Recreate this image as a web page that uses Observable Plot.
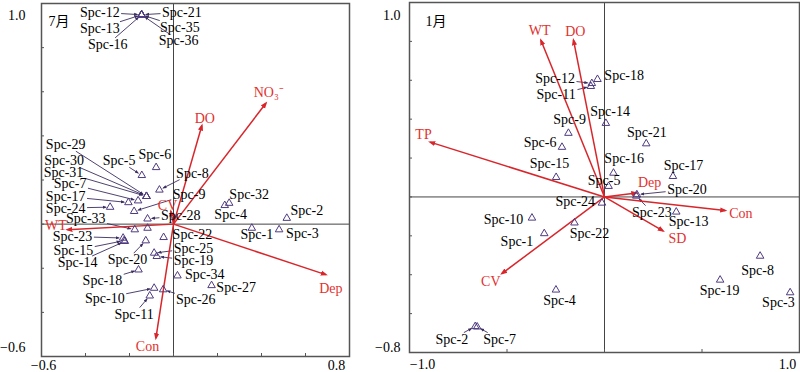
<!DOCTYPE html>
<html><head><meta charset="utf-8">
<script src="https://cdn.jsdelivr.net/npm/d3@7"></script>
<script src="https://cdn.jsdelivr.net/npm/@observablehq/plot@0.6"></script>
<style>
html,body{margin:0;padding:0;background:#fff;}
#wrap{position:relative;width:800px;height:372px;overflow:hidden;background:#fff;}
#wrap > svg{position:absolute;top:0;}
</style></head><body><div id="wrap"></div>
<script>
// ---------- July (7月) ----------
const julSpecies = Array.from({length: 36}, (_, i) => `Spc-${i + 1}`);
const julX = [0.356,0.515,0.480,0.233,-0.144,-0.079,-0.161,-0.064,-0.179,-0.088,-0.108,-0.145,-0.145,-0.221,-0.225,-0.145,-0.205,-0.159,-0.076,-0.126,-0.145,-0.045,-0.229,-0.288,-0.088,-0.047,0.173,-0.118,-0.123,-0.123,-0.123,0.253,-0.176,0.018,-0.145,-0.145];
const julY = [-0.018,0.027,-0.025,0.085,0.221,0.257,0.106,0.155,0.058,-0.290,-0.325,0.949,0.949,-0.078,-0.075,0.949,0.098,-0.207,-0.146,-0.075,0.949,-0.060,-0.063,0.077,-0.131,-0.297,-0.278,0.024,0.126,0.126,0.126,0.095,-0.025,-0.234,0.949,0.949];
const julLabelX = [0.379,0.606,0.586,0.260,-0.247,-0.085,-0.470,0.086,0.071,-0.312,-0.179,-0.335,-0.335,-0.436,-0.455,-0.299,-0.490,-0.323,0.091,-0.209,0.038,0.086,-0.459,-0.490,0.091,0.101,0.285,0.033,-0.490,-0.497,-0.500,0.344,-0.399,0.142,0.029,0.023];
const julLabelY = [-0.045,0.061,-0.041,0.043,0.287,0.315,0.183,0.231,0.136,-0.335,-0.408,0.960,0.888,-0.174,-0.121,0.815,0.126,-0.257,-0.166,-0.161,0.960,-0.045,-0.056,0.073,-0.109,-0.343,-0.287,0.038,0.360,0.287,0.236,0.136,0.024,-0.227,0.893,0.833];
const julLeaders = ["Spc-5","Spc-7","Spc-8","Spc-9","Spc-10","Spc-11","Spc-12","Spc-13","Spc-14","Spc-15","Spc-16","Spc-17","Spc-18","Spc-19","Spc-20","Spc-21","Spc-23","Spc-24","Spc-25","Spc-26","Spc-28","Spc-29","Spc-30","Spc-31","Spc-33","Spc-35","Spc-36"];
const julExtraX = [-0.118];
const julExtraY = [-0.018];
const julEnv = ["NO₃⁻","DO","CV","WT","Dep","Con"];
const julEnvX = [0.420,0.129,-0.012,-0.482,0.692,-0.080];
const julEnvY = [0.548,0.447,0.058,-0.025,-0.229,-0.517];
const julEnvLabelX = [0.433,0.142,-0.027,-0.535,0.715,-0.118];
const julEnvLabelY = [0.598,0.480,0.085,-0.005,-0.290,-0.554];
const julXTicks = [-0.6,-0.4,-0.2,0,0.2,0.4,0.6,0.8];
const julYTicks = [-0.6,-0.4,-0.2,0,0.2,0.4,0.6,0.8,1.0];
const julXLabels = [-0.6, 0.8];
const julYLabels = [-0.6, 1.0];

// ---------- January (1月) ----------
const janSpecies = Array.from({length: 24}, (_, i) => `Spc-${i + 1}`);
const janX = [-0.309,-0.663,0.952,-0.249,0.021,-0.218,-0.653,0.798,-0.185,-0.372,-0.070,-0.065,0.368,0.007,-0.248,0.046,0.351,-0.036,0.593,0.166,0.214,-0.154,0.163,-0.013];
const janY = [-0.188,-0.666,-0.492,-0.478,0.055,0.256,-0.668,-0.304,0.328,-0.108,0.569,0.584,-0.077,0.379,0.101,0.123,0.106,0.605,-0.427,0.012,0.274,-0.133,0.005,-0.031];
const janLabelX = [-0.449,-0.783,0.892,-0.231,-0.002,-0.330,-0.538,0.785,-0.179,-0.518,-0.248,-0.253,0.431,0.029,-0.282,0.101,0.405,0.101,0.590,0.423,0.217,-0.077,0.243,-0.150];
const janLabelY = [-0.231,-0.731,-0.543,-0.534,0.084,0.280,-0.731,-0.377,0.397,-0.116,0.525,0.607,-0.128,0.439,0.171,0.197,0.162,0.627,-0.480,0.038,0.331,-0.190,-0.078,-0.026];
const janLeaders = ["Spc-2","Spc-7","Spc-11","Spc-12","Spc-20","Spc-23"];
const janEnv = ["WT","DO","TP","Dep","Con","SD","CV"];
const janEnvX = [-0.326,-0.159,-0.894,0.163,0.619,0.300,-0.526];
const janEnvY = [0.806,0.806,0.282,0.020,-0.070,-0.174,-0.394];
const janEnvLabelX = [-0.333,-0.150,-0.928,0.231,0.699,0.374,-0.583];
const janEnvLabelY = [0.858,0.852,0.320,0.072,-0.085,-0.213,-0.435];
const janXTicks = [-1,-0.5,0,0.5,1];
const janYTicks = [-0.8,-0.6,-0.4,-0.2,0,0.2,0.4,0.6,0.8,1.0];
const janXLabels = [-1.0, 1.0];
const janYLabels = [-0.8, 1.0];

const RED = "#d8262b";
const RED_TEXT = "#e2322f";
const PURPLE = "#4f3b80";
const LEADER = "#3b2d60";
const FONT = "'Liberation Serif','Times New Roman','Noto Sans CJK SC',serif";
const fmt = d3.format(".1f");

function panel(c) {
  const pw = c.width - c.mL - c.mR, ph = c.height - c.mT - c.mB;
  const kx = pw / (c.domX[1] - c.domX[0]), ky = ph / (c.domY[1] - c.domY[0]);
  const pts = c.species.map((s, i) => ({s, x: c.sx[i], y: c.sy[i], lx: c.lx[i], ly: c.ly[i]}));
  const extra = (c.extraX || []).map((x, i) => ({x, y: c.extraY[i]}));
  const leaders = pts.filter(d => c.leaders.includes(d.s)).map(d => {
    const digits = d.s.length - 4;
    const hw = (25.7 + 7 * digits) / 2 + 1.5, hh = 6.5;
    const dxp = (d.x - d.lx) * kx, dyp = (d.y - d.ly) * ky;
    const t = Math.min(hw / Math.max(Math.abs(dxp), 1e-9), hh / Math.max(Math.abs(dyp), 1e-9));
    const dist = Math.hypot(dxp, dyp);
    const te = Math.max(t, (dist - 4.5) / dist);
    return {x1: d.lx + t * (d.x - d.lx), y1: d.ly + t * (d.y - d.ly),
            x2: d.lx + te * (d.x - d.lx), y2: d.ly + te * (d.y - d.ly)};
  });
  const env = c.env.map((n, i) => ({n, x: c.ex[i], y: c.ey[i], lx: c.elx[i], ly: c.ely[i]}));
  const svg = Plot.plot({
    width: c.width, height: c.height,
    marginLeft: c.mL, marginRight: c.mR, marginTop: c.mT, marginBottom: c.mB,
    x: {domain: c.domX, label: null},
    y: {domain: c.domY, label: null},
    style: {fontFamily: FONT, fontSize: "14px", background: "transparent", color: "#000"},
    marks: [
      Plot.ruleX([0], {stroke: "#444", strokeWidth: 1}),
      Plot.ruleY([0], {stroke: "#444", strokeWidth: 1}),
      Plot.ruleX(c.xTicks, {x: d => d, insetTop: ph - 3, stroke: "#555"}),
      Plot.ruleY(c.yTicks, {y: d => d, insetRight: pw - 3, stroke: "#555"}),
      Plot.frame({stroke: "#555", strokeWidth: 1.5}),
      Plot.axisY([c.yLabels[1]], {tickSize: 0, tickPadding: c.yPad, dy: c.yDyTop, tickFormat: fmt, fontSize: 14, fill: "#000"}),
      Plot.axisY([c.yLabels[0]], {tickSize: 0, tickPadding: c.yPad, dy: c.yDyBot, tickFormat: fmt, fontSize: 14, fill: "#000"}),
      Plot.axisX([c.xLabels[0]], {tickSize: 0, tickPadding: c.xPad, dx: c.xDxL, tickFormat: fmt, fontSize: 14, fill: "#000"}),
      Plot.axisX([c.xLabels[1]], {tickSize: 0, tickPadding: c.xPad, dx: c.xDxR, tickFormat: fmt, fontSize: 14, fill: "#000"}),
      Plot.link(leaders, {x1: "x1", y1: "y1", x2: "x2", y2: "y2", stroke: LEADER, strokeWidth: 0.9, markerEnd: "arrow"}),
      Plot.link(env, {x1: () => 0, y1: () => 0, x2: "x", y2: "y", stroke: RED, strokeWidth: 1.5, markerEnd: "arrow"}),
      Plot.dot(pts, {x: "x", y: "y", symbol: "triangle", r: 2.8, stroke: PURPLE, strokeWidth: 1, fill: "none"}),
      Plot.dot(extra, {x: "x", y: "y", symbol: "triangle", r: 2.8, stroke: PURPLE, strokeWidth: 1, fill: "none"}),
      Plot.text(pts, {x: "lx", y: "ly", text: "s", fontSize: 14, fill: "#000"}),
      Plot.text(env, {x: "lx", y: "ly", text: "n", fontSize: 14, fill: RED_TEXT}),
      Plot.text([c.title], {frameAnchor: "top-left", text: d => d, textAnchor: "start", lineAnchor: "middle", dx: c.tDx, dy: c.tDy, fontSize: 14, fill: "#000"})
    ]
  });
  d3.select(svg).selectAll("marker").each(function () {
    const m = d3.select(this);
    const col = m.attr("stroke");
    m.attr("stroke", "none").attr("fill", col);
    m.selectAll("path").attr("d", "M-5,-2.6L2.2,0L-5,2.6Z").attr("stroke", "none").attr("fill", col);
  });
  svg.style.left = c.left + "px";
  return svg;
}

const wrap = document.getElementById("wrap");
wrap.appendChild(panel({
  title: "7月", left: 0, width: 360, height: 372, mL: 41, mR: 11, mT: 3, mB: 16,
  domX: [-0.6, 0.8], domY: [-0.6, 1.0],
  species: julSpecies, sx: julX, sy: julY, lx: julLabelX, ly: julLabelY, leaders: julLeaders,
  extraX: julExtraX, extraY: julExtraY,
  env: julEnv, ex: julEnvX, ey: julEnvY, elx: julEnvLabelX, ely: julEnvLabelY,
  xTicks: julXTicks, yTicks: julYTicks, xLabels: julXLabels, yLabels: julYLabels,
  yPad: 16, yDyTop: 12, yDyBot: -9, xPad: 4, xDxL: 2, xDxR: -13, tDx: 7, tDy: 18
}));
wrap.appendChild(panel({
  title: "1月", left: 360, width: 440, height: 372, mL: 49, mR: 1, mT: 2, mB: 20,
  domX: [-1, 1], domY: [-0.8, 1.0],
  species: janSpecies, sx: janX, sy: janY, lx: janLabelX, ly: janLabelY, leaders: janLeaders,
  env: janEnv, ex: janEnvX, ey: janEnvY, elx: janEnvLabelX, ely: janEnvLabelY,
  xTicks: janXTicks, yTicks: janYTicks, xLabels: janXLabels, yLabels: janYLabels,
  yPad: 9, yDyTop: 13, yDyBot: -5, xPad: 7, xDxL: 13, xDxR: -12, tDx: 16, tDy: 19
}));
</script>
</body></html>
